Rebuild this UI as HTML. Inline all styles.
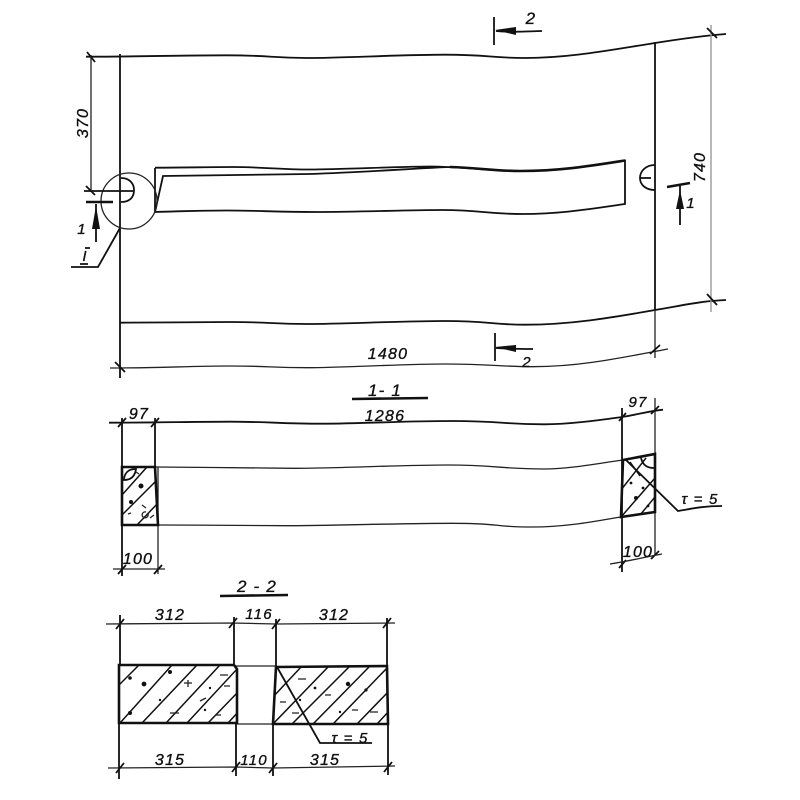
<!DOCTYPE html>
<html><head><meta charset="utf-8"><style>
html,body{margin:0;padding:0;background:#fff}
svg{display:block}
text{font-family:"Liberation Sans",sans-serif;font-style:italic;font-size:16px;fill:#111;stroke:#111;stroke-width:.35;text-anchor:middle;letter-spacing:1.2px}
.l{fill:none;stroke:#111;stroke-width:1.8}
.t{fill:none;stroke:#222;stroke-width:1.3}
.b{fill:none;stroke:#111;stroke-width:2.6}
.h{fill:none;stroke:#111;stroke-width:1.5}
</style></head><body>
<svg width="800" height="800" viewBox="0 0 800 800" xmlns="http://www.w3.org/2000/svg">
<defs>
<clipPath id="a"><path d="M122 467H155L158 525H122Z"/></clipPath>
<clipPath id="b"><path d="M623 460L655 454V512L621 517Z"/></clipPath>
<clipPath id="c"><path d="M119 665H234L237 669V723H119Z"/></clipPath>
<clipPath id="d"><path d="M276 667L387 666L388 724H273Z"/></clipPath>
</defs>

<!-- Plan -->
<path class="l" d="M86 56.7C140 56.7 180 55.3 226 55.3S270 58 307 58S400 54.7 445 54.7S490 58 525 58C570 58 610 50 655 43C680 39 700 36 726 34"/>
<path class="l" d="M120 322.7C160 322.7 190 322 230 322S270 324 307 324S400 321 445 321S490 324.7 525 324.7C570 324.7 610 318 655 310C680 306 700 301 726 300"/>
<path class="t" d="M110 368C160 368 190 366 230 366S270 367.7 307 367.7S400 364 445 364S500 366.7 533 366.7C580 366.7 620 358 668 349"/>
<path class="l" d="M120 54V378"/>
<path class="l" d="M655 42V310"/>
<path class="t" d="M655 310V358"/>
<path class="t" d="M91 55V192"/>
<path d="M711 25V312" fill="none" stroke="#999" stroke-width="1.4"/>
<path class="l" d="M87 52L95 62M86 186L95 195M707 28L717 38M707 294L717 305M115 362L125 372M650 354L660 345"/>

<!-- Slot -->
<path class="l" d="M155 168V212"/>
<path class="l" d="M155 167.7C190 167.7 205 167 233 167S280 169.5 310 169.5S400 166.5 430 166.5S490 171 520 171C560 171 590 166 625 160.5V204C590 209 560 214 523 214S480 210 443 210S360 212 317 212S260 210.5 227 210.5S190 211 155 212L163 176C220 175.5 270 175 310 174C370 172 420 168 450 167"/>
<path class="b" d="M450 167C480 168 495 171 520 171C560 171 590 166 625 160.5" stroke-width="2.2"/>

<!-- Left detail -->
<circle class="t" cx="129" cy="201" r="28"/>
<path class="l" d="M121 178C130 178 134 184 134 190C134 197 130 202 121 202"/>
<path class="l" d="M84 191H133"/>
<path class="b" d="M86 202H113"/>
<path class="l" d="M96 204V242"/>
<path d="M96 206L100 229H92Z" fill="#111"/>
<text x="82" y="234" style="font-size:15px">1</text>
<text x="85" y="261" style="font-size:15px">I</text>
<path class="l" d="M85 248H90M80 264H88"/>
<path class="l" d="M71 267H98L120 228"/>
<text transform="translate(88 123) rotate(-90)">370</text>

<!-- Right notch -->
<path class="l" d="M655 165C646 165 640 171 640 178C640 185 646 190 655 190"/>
<path class="l" d="M640 178H651"/>
<path class="b" d="M667 187L690 183"/>
<path class="l" d="M680 186V225"/>
<path d="M680 190L684 209H676Z" fill="#111"/>
<text x="691" y="208" style="font-size:15px">1</text>
<text transform="translate(705 167) rotate(-90)">740</text>

<!-- Section marks 2 -->
<path class="l" d="M494 17V45"/>
<path class="l" d="M496 31C515 33 530 31 542 31"/>
<path d="M495 30L516 27V35Z" fill="#111"/>
<text x="531" y="24" style="font-size:17px">2</text>
<path class="l" d="M495 333V361"/>
<path class="l" d="M496 348C510 349 522 349 533 349"/>
<path d="M495 347L516 345V352Z" fill="#111"/>
<text x="527" y="367" style="font-size:15px">2</text>
<text x="388" y="359">1480</text>

<!-- Section 1-1 -->
<text x="385" y="396" style="font-size:17px">1- 1</text>
<path class="b" d="M352 399L428 398"/>
<text x="385" y="421">1286</text>
<path class="l" d="M109 422.7C160 422.7 190 421.7 230 421.7S280 423.7 322 423.7S400 421 452 421S500 424.3 544 424.3C570 424.3 600 420 622 417C640 414 650 411 663 409.7"/>
<path class="t" d="M155 467C200 467 250 468.3 293 468.3S400 465 448 465S500 469 544 469C570 469 600 463 623 460"/>
<path class="t" d="M158 525C200 525 240 525.7 285 525.7S400 523.3 452 523.3S490 527 533 527C570 527 600 520 621 517"/>
<path class="l" d="M122 418V576M155 418V467"/>
<path class="t" d="M158 467V574"/>
<path class="l" d="M622 408V572"/>
<path class="t" d="M655 398V556"/>
<path class="t" d="M113 569H165"/>
<path class="l" d="M118 427L126 418M151 427L159 418M118 574L126 565M154 574L162 565M619 421L626 413M651 414L659 406M619 568L626 560M651 559L659 551"/>
<path class="t" d="M610 564C630 561 645 557 662 554"/>
<text x="139" y="419">97</text>
<text x="138" y="564">100</text>
<text x="638" y="407" style="font-size:15px">97</text>
<text x="638" y="557">100</text>

<g clip-path="url(#a)"><path class="h" d="M122 495L147 467M122 515L155 482M137 525L158 503"/>
<circle cx="141" cy="486" r="2.5" fill="#111"/><circle cx="131" cy="502" r="2" fill="#111"/><path class="t" d="M142 505l4 3M150 518l4-3M146 512a3 3 0 1 0 2 2M128 514l3-1M136 472l3 2"/></g>
<path class="b" d="M122 467H155L158 525H122Z"/>
<path class="l" d="M124 479C125 471 130 469 136 469C135 476 131 480 124 480Z"/>

<g clip-path="url(#b)"><path class="h" d="M621 490L646 458M621 517L655 478M640 515L655 497M630 462L640 476"/>
<circle cx="636" cy="498" r="2" fill="#111"/><circle cx="643" cy="488" r="1.4" fill="#111"/><circle cx="648" cy="506" r="1.4" fill="#111"/><circle cx="631" cy="483" r="1.4" fill="#111"/></g>
<path class="b" d="M623 460L655 454V512L621 517Z"/>
<path class="l" d="M641 458C643 466 648 468 654 468"/>
<path class="l" d="M626 460L678 511C695 508 705 506 722 506"/>
<text x="700" y="504" style="font-size:15px">τ = 5</text>

<!-- Section 2-2 -->
<text x="257" y="592" style="font-size:17px">2 - 2</text>
<path class="b" d="M220 596L288 595"/>
<path class="t" d="M106 624L232 623L276 624L395 623"/>
<path class="t" d="M108 768L236 767L273 768L395 766"/>
<path class="l" d="M120 615V665M119 723V779M234 617V665M276 619V667M387 618V666M388 724V775M236 723V776M273 724V776"/>
<path class="t" d="M234 666H276M237 724H273"/>
<path class="l" d="M116 629L124 619M229 628L237 618M272 629L280 619M383 628L391 618M116 773L124 763M232 772L240 762M269 773L277 763M384 772L392 762"/>
<text x="170" y="620">312</text><text x="259" y="619" style="font-size:15px">116</text><text x="334" y="620">312</text>
<text x="170" y="765">315</text><text x="254" y="765" style="font-size:15px">110</text><text x="325" y="765">315</text>

<g clip-path="url(#c)"><path class="h" d="M119 685L140 664M120 723L172 665M142 723L197 665M166 723L220 665M187 723L238 668M208 723L240 690M228 723L240 710"/>
<circle cx="130" cy="678" r="1.8" fill="#111"/><circle cx="144" cy="684" r="2.4" fill="#111"/><circle cx="170" cy="672" r="2" fill="#111"/><circle cx="130" cy="713" r="2" fill="#111"/><circle cx="160" cy="700" r="1.2" fill="#111"/><circle cx="205" cy="710" r="1.2" fill="#111"/><circle cx="210" cy="688" r="1.2" fill="#111"/>
<path class="t" d="M184 683h8M188 680v7M224 686h6M220 675h8M170 713h9M200 701l6-3M215 715h6"/></g>
<path class="b" d="M119 665H234L237 669V723H119Z"/>

<g clip-path="url(#d)"><path class="h" d="M273 697L302 666M273 724L329 666M292 724L350 666M313 724L370 666M333 724L388 667M357 724L390 690M377 724L390 710"/>
<circle cx="348" cy="684" r="2.2" fill="#111"/><circle cx="366" cy="690" r="1.6" fill="#111"/><circle cx="315" cy="688" r="1.4" fill="#111"/><circle cx="340" cy="712" r="1.2" fill="#111"/><circle cx="300" cy="700" r="1.2" fill="#111"/>
<path class="t" d="M298 679h8M280 702h6M292 713h7M352 710h6M370 712h8M325 695h6"/></g>
<path class="b" d="M276 667L387 666L388 724H273Z"/>
<path class="l" d="M277 667L320 743H372"/>
<text x="350" y="743" style="font-size:15px">τ = 5</text>
</svg>
</body></html>
